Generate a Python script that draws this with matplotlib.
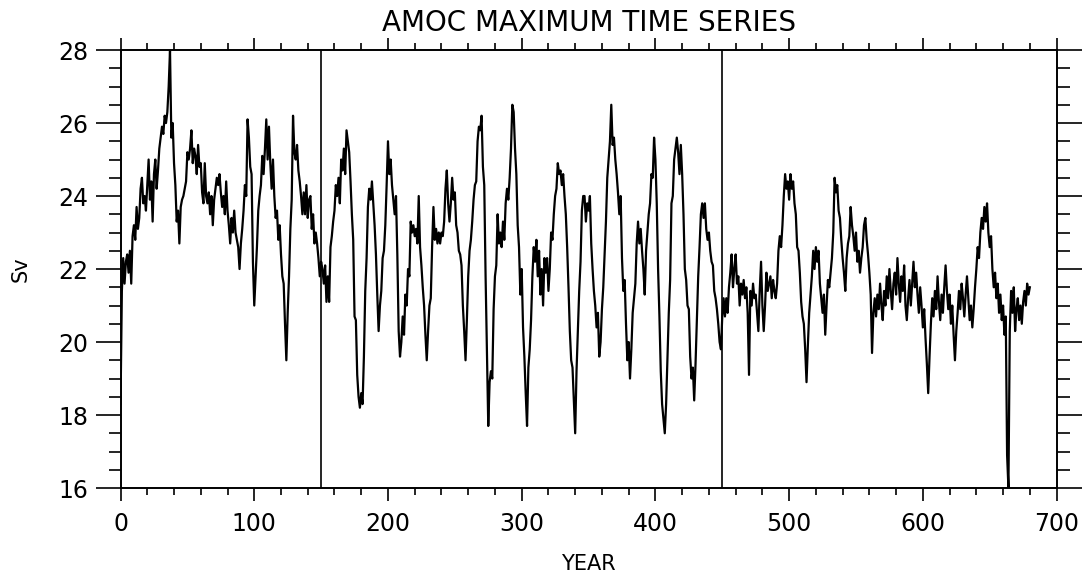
import numpy as np
import matplotlib
matplotlib.use("Agg")
import matplotlib.pyplot as plt
from matplotlib.ticker import MultipleLocator

# AMOC maximum (Sv), one value per model year
amoc = [
    18.3, 21.4, 22.3, 21.6, 22.2, 22.4, 21.9, 22.5, 21.6, 22.9, 23.2, 22.8, 23.7, 23.1, 23.4, 24.2, 24.5, 23.8, 24.0, 23.6,
    24.3, 25.0, 23.9, 24.4, 23.3, 24.6, 25.0, 24.2, 24.7, 25.3, 25.6, 25.9, 25.7, 26.2, 26.0, 26.3, 27.0, 28.0, 25.6, 26.0,
    24.9, 24.3, 23.3, 23.6, 22.7, 23.7, 23.9, 24.0, 24.2, 24.4, 25.2, 25.0, 25.3, 25.8, 24.9, 25.3, 25.1, 24.6, 25.4, 24.8,
    24.9, 24.1, 23.8, 24.9, 24.0, 23.8, 24.1, 23.5, 24.0, 23.2, 23.9, 24.2, 24.5, 24.3, 24.6, 24.1, 23.7, 24.0, 23.5, 24.4,
    23.6, 23.2, 22.7, 23.4, 23.0, 23.6, 23.0, 22.8, 22.6, 22.0, 22.7, 23.1, 23.6, 24.3, 24.0, 26.1, 25.6, 24.8, 24.6, 22.2,
    21.0, 21.8, 22.6, 23.6, 24.0, 24.3, 25.1, 24.6, 25.3, 26.1, 25.0, 25.9, 24.9, 24.2, 25.0, 24.0, 23.4, 23.6, 22.8, 23.2,
    22.4, 21.8, 21.6, 20.5, 19.5, 20.8, 21.8, 23.1, 23.9, 26.2, 25.2, 25.0, 25.4, 24.7, 24.4, 24.0, 23.5, 24.1, 23.5, 24.3,
    23.4, 23.9, 24.0, 23.1, 23.5, 22.7, 23.0, 22.7, 22.3, 21.8, 22.2, 22.0, 21.6, 22.1, 21.1, 21.8, 21.1, 22.6, 22.9, 23.3,
    23.6, 24.3, 24.0, 24.5, 23.8, 25.0, 24.7, 25.3, 24.6, 25.8, 25.5, 25.2, 24.4, 23.5, 22.8, 20.7, 20.6, 19.1, 18.5, 18.2,
    18.6, 18.3, 19.6, 21.4, 22.3, 23.7, 24.2, 23.9, 24.4, 23.8, 23.2, 22.4, 21.3, 20.3, 21.0, 21.4, 22.3, 22.5, 23.2, 24.3,
    25.5, 24.6, 25.0, 24.3, 23.9, 23.5, 24.0, 22.4, 20.3, 19.6, 20.0, 20.7, 20.2, 21.3, 21.0, 22.0, 21.8, 23.3, 23.0, 23.2,
    22.9, 23.1, 22.7, 24.0, 22.6, 22.1, 21.5, 21.0, 20.2, 19.5, 20.3, 21.0, 21.2, 22.6, 23.7, 22.8, 23.1, 22.7, 23.0, 22.7,
    23.0, 22.9, 23.3, 24.2, 24.7, 23.8, 23.3, 23.8, 24.5, 23.9, 24.1, 23.2, 23.0, 22.5, 22.4, 22.1, 21.0, 20.3, 19.5, 20.6,
    21.8, 22.5, 22.8, 23.3, 23.9, 24.3, 24.4, 25.5, 25.9, 25.8, 26.2, 24.8, 24.3, 21.8, 19.8, 17.7, 18.9, 19.2, 19.0, 20.9,
    21.8, 22.1, 23.5, 22.7, 23.0, 22.6, 23.3, 22.8, 23.8, 24.2, 23.9, 24.5, 25.3, 26.5, 26.3, 25.3, 24.6, 23.2, 22.6, 21.3,
    22.0, 20.4, 19.6, 18.6, 17.7, 19.3, 19.8, 20.6, 21.8, 22.6, 22.2, 22.8, 21.8, 22.5, 21.3, 22.0, 21.0, 22.3, 21.9, 22.3,
    21.4, 22.0, 23.0, 22.8, 23.5, 24.0, 24.2, 24.9, 24.6, 24.7, 24.3, 24.6, 24.0, 23.5, 22.6, 21.5, 20.3, 19.5, 19.3, 18.4,
    17.5, 19.2, 20.3, 21.4, 22.2, 23.6, 24.0, 24.0, 23.3, 23.8, 23.6, 24.0, 22.7, 22.0, 21.4, 21.0, 20.4, 20.8, 19.6, 20.0,
    20.9, 21.5, 22.4, 23.3, 24.5, 25.0, 25.5, 26.5, 25.4, 25.6, 25.0, 24.6, 24.1, 23.5, 24.0, 22.3, 21.4, 21.7, 20.5, 19.5,
    20.0, 19.0, 19.8, 20.8, 21.2, 21.6, 22.7, 23.3, 22.7, 23.1, 22.5, 22.0, 21.3, 22.5, 23.0, 23.5, 23.8, 24.6, 24.5, 25.6,
    25.0, 23.8, 22.0, 20.7, 19.2, 18.3, 17.9, 17.5, 18.3, 19.6, 20.8, 21.7, 23.8, 24.0, 25.0, 25.3, 25.6, 25.2, 24.6, 25.4,
    24.6, 23.5, 22.0, 21.7, 21.0, 20.9, 19.6, 19.0, 19.3, 18.4, 19.4, 20.6, 21.8, 22.6, 23.5, 23.8, 23.4, 23.8, 23.1, 22.8,
    23.0, 22.5, 22.2, 22.1, 21.4, 21.2, 20.9, 20.5, 20.0, 19.8, 20.7, 21.2, 20.7, 21.2, 20.8, 21.5, 21.9, 22.4, 21.5, 22.0,
    22.4, 21.6, 21.8, 21.0, 21.6, 21.3, 21.7, 21.2, 21.5, 20.8, 19.1, 21.4, 21.0, 21.6, 21.2, 21.3, 20.8, 20.3, 21.4, 22.2,
    21.0, 20.3, 21.0, 21.9, 21.4, 21.6, 21.8, 21.2, 21.7, 21.4, 21.2, 21.6, 22.5, 22.9, 22.6, 23.2, 24.0, 24.6, 24.2, 24.4,
    23.9, 24.6, 24.2, 24.4, 23.8, 23.5, 22.6, 22.5, 21.9, 21.1, 20.7, 20.5, 19.8, 18.9, 19.9, 20.8, 21.3, 21.8, 22.5, 22.0,
    22.6, 22.2, 22.5, 21.6, 21.2, 20.8, 21.3, 20.2, 21.0, 21.7, 21.5, 21.9, 22.3, 23.0, 24.5, 24.1, 24.3, 23.6, 23.4, 22.8,
    22.3, 21.9, 21.4, 22.3, 22.7, 22.9, 23.7, 23.2, 22.9, 22.5, 23.0, 22.2, 22.5, 21.9, 22.3, 22.6, 23.2, 23.4, 22.8, 22.4,
    21.9, 21.3, 19.7, 20.8, 21.2, 20.7, 21.3, 20.9, 21.6, 21.0, 20.6, 21.4, 21.0, 21.8, 21.2, 22.0, 21.4, 20.9, 21.6, 21.9,
    21.3, 22.3, 21.6, 21.1, 21.8, 21.4, 22.1, 21.0, 20.6, 21.2, 21.7, 21.0, 21.6, 22.2, 21.5, 21.9, 21.3, 20.8, 21.5, 21.0,
    20.4, 20.9, 20.1, 19.4, 18.6, 19.6, 20.5, 21.2, 20.7, 21.4, 20.9, 21.8, 21.1, 20.6, 21.3, 20.8, 21.5, 22.1, 21.4, 20.9,
    21.3, 20.5, 21.0, 20.2, 19.5, 20.3, 20.8, 21.4, 20.9, 21.6, 21.2, 20.7, 21.3, 21.8, 21.2, 20.6, 21.0, 20.4, 20.9, 21.5,
    22.0, 22.6, 22.3, 23.0, 23.4, 23.1, 23.7, 23.3, 23.8, 23.0, 22.6, 22.9, 22.0, 21.5, 21.9, 21.2, 21.6, 20.8, 21.3, 20.6,
    21.0, 20.2, 20.7, 16.9, 16.0, 20.3, 21.4, 20.8, 21.5, 20.3, 20.9, 21.2, 20.6, 21.0, 20.5, 21.1, 21.4, 21.0, 21.6, 21.3,
    21.5,
]
years = np.arange(len(amoc))
marker_years = [150, 450]

fig = plt.figure(figsize=(10.82, 5.73), dpi=100)
ax = fig.add_axes([0.1114, 0.1483, 0.8651, 0.7644])

ax.plot(years, amoc, color="black", lw=1.6)
for yr in marker_years:
    ax.axvline(yr, color="black", lw=1.2)

ax.set_xlim(0, 700)
ax.set_ylim(16, 28)
ax.xaxis.set_major_locator(MultipleLocator(100))
ax.xaxis.set_minor_locator(MultipleLocator(20))
ax.yaxis.set_major_locator(MultipleLocator(2))
ax.yaxis.set_minor_locator(MultipleLocator(0.5))

for sp in ax.spines.values():
    sp.set_linewidth(1.4)

ax.tick_params(which="both", direction="out", top=True, right=True, width=1.2, labelsize=17)
ax.tick_params(axis="x", which="major", length=9, pad=8)
ax.tick_params(axis="x", which="minor", length=5)
ax.tick_params(axis="y", which="major", length=18, pad=5)
ax.tick_params(axis="y", which="minor", length=9)

ax.set_title("AMOC MAXIMUM TIME SERIES", fontsize=20, pad=14)
ax.set_xlabel("YEAR", fontsize=15, labelpad=13)
ax.set_ylabel("Sv", fontsize=15, labelpad=20)

fig.savefig("out.png", dpi=100)
